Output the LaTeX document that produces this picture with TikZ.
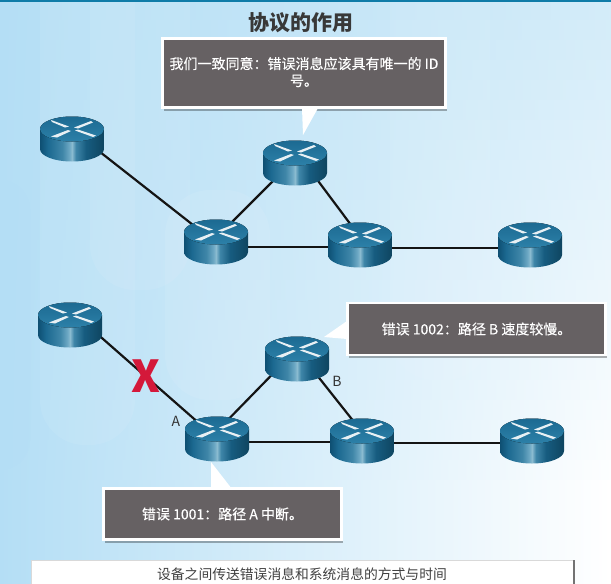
\documentclass[tikz,border=0pt]{standalone}
\usepackage{fontspec}
\setmainfont{Noto Sans CJK SC}
\newfontfamily\calloutfont[FakeBold=0.25]{Noto Sans CJK SC}
\usetikzlibrary{shadows,calc}
\definecolor{bgL}{rgb}{.706,.871,.961}
\definecolor{bgR}{rgb}{.83,.925,.976}
\definecolor{barC}{rgb}{.06,.486,.659}
\definecolor{rTop}{rgb}{.11,.416,.573}
\definecolor{rLow}{rgb}{.173,.502,.659}
\definecolor{callout}{rgb}{.40,.38,.388}
\definecolor{cross}{rgb}{.83,.094,.227}
\pgfdeclarehorizontalshading{routerbody}{100bp}{
 rgb(0bp)=(.055,.31,.447); rgb(25bp)=(.055,.31,.447); rgb(31bp)=(.106,.408,.565); rgb(42.5bp)=(.247,.525,.659); rgb(48bp)=(.427,.659,.769);
 rgb(50bp)=(.541,.733,.816); rgb(53bp)=(.247,.525,.659); rgb(61bp)=(.09,.361,.502); rgb(75bp)=(.055,.27,.376); rgb(100bp)=(.055,.27,.376)}
\tikzset{
 x=1pt,y=-1pt,
 routerspot/.style={inner sep=0pt,minimum width=60pt,minimum height=40pt},
 link/.style={line width=2.2pt,black!92},
 calloutbox/.style={draw=white,line width=2.4pt,fill=callout,text=white,font=\calloutfont\fontsize{14}{17}\selectfont,align=center,
   drop shadow={shadow xshift=1pt,shadow yshift=-3pt,opacity=.3,fill=black}},
 tailshape/.style={fill=white},
 lbl/.style={font=\fontsize{14}{16}\selectfont,text=black!80},
 softband/.style={fill=white,opacity=#1},
}
\newcommand{\routerart}[1]{%
 \begin{scope}[shift={(#1.center)}]
  \path[shading=routerbody] (-32,-10) -- (-32,10) arc[x radius=32,y radius=12.5,start angle=180,end angle=0] -- (32,-10) -- cycle;
  \fill[top color=rTop,bottom color=rLow] (0,-10) ellipse[x radius=32,y radius=12.5];
  \fill[white!90!rTop] (-21,-19) -- (-3,-12.5) -- (-7,-11.5) -- (-20,-17) -- cycle;
  \fill[white!90!rTop] (19,-18) -- (2,-11.5) -- (6,-10.5) -- (21,-16.5) -- cycle;
  \fill[white!90!rTop] (-21,-2.5) -- (-4,-9) -- (-1,-8) -- (-15,-1.5) -- cycle;
  \fill[white!90!rTop] (21,-2) -- (3,-8.5) -- (6,-9.5) -- (24,-3.5) -- cycle;
 \end{scope}}
\begin{document}
\begin{tikzpicture}
\useasboundingbox (0,0) rectangle (611,584);
% background
\foreach \i in {0,...,29} {
 \pgfmathtruncatemacro{\p}{min(100,\i*100/24)}
 \shade[left color=bgL,right color=white!\p!bgR] (0,{\i*20}) rectangle (611,{min(584,\i*20+21)});
}
\begin{scope}
 \clip (0,0) rectangle (611,584);
 \fill[bgL,opacity=.35,rounded corners=30pt] (-40,180) rectangle (30,470);
 \fill[softband=.07,rounded corners=45pt] (40,-60) rectangle (135,445);
 \fill[softband=.07,rounded corners=45pt] (90,-60) rectangle (190,290);
 \fill[softband=.08,rounded corners=45pt] (165,190) rectangle (270,400);
 \fill[softband=.06,rounded corners=45pt] (390,-60) rectangle (490,380);
\end{scope}
\fill[barC] (0,0) rectangle (611,2);
% title
\node[font=\fontsize{21}{24}\bfseries\selectfont,text=black!78] (title) at (301,23) {协议的作用};
% router positions
\node[routerspot] (a1) at (72,139) {};
\node[routerspot] (a2) at (295,163) {};
\node[routerspot] (a3) at (216,242) {};
\node[routerspot] (a4) at (360,245) {};
\node[routerspot] (a5) at (530,245) {};
\node[routerspot] (b1) at (70,325) {};
\node[routerspot] (b2) at (297,359) {};
\node[routerspot] (b3) at (217,439) {};
\node[routerspot] (b4) at (362,441) {};
\node[routerspot] (b5) at (532,441) {};
% links
\draw[link] ($(a1.center)+(0,-9)$) -- ($(a3.center)+(0,1)$);
\draw[link] ($(a2.center)+(0,-4)$) -- ($(a3.center)+(0,-4)$);
\draw[link] ($(a2.center)+(0,-13)$) -- ($(a4.center)+(0,-8)$);
\draw[link] ($(a3.center)+(0,5)$) -- ($(a4.center)+(0,2)$);
\draw[link] ($(a4.center)+(0,3)$) -- ($(a5.center)+(0,3)$);
\draw[link] ($(b1.center)+(0,-15)$) -- (b3.center);
\draw[link] ($(b2.center)+(0,-10)$) -- ($(b3.center)+(0,-8)$);
\draw[link] ($(b2.center)+(0,-9)$) -- ($(b4.center)+(0,-9)$);
\draw[link] ($(b3.center)+(0,3)$) -- ($(b4.center)+(0,1)$);
\draw[link] ($(b4.center)+(0,2)$) -- ($(b5.center)+(0,2)$);
% routers
\foreach \r in {a1,a2,a3,a4,a5,b1,b2,b3,b4,b5} {\routerart{\r}}
% callouts
\node[calloutbox,minimum width=283pt,minimum height=69pt,text depth=3pt] (c1) at (304,73) {我们一致同意：错误消息应该具有唯一的 ID\\号。};
\fill[tailshape] (302,108) -- (303,135) -- (318,108) -- cycle;
\node[calloutbox,minimum width=258pt,minimum height=52pt] (c2) at (476.5,329) {\raisebox{1pt}{错误 1002：路径 B 速度较慢。}};
\fill[tailshape] (347,321) -- (324,337) -- (347,339) -- cycle;
\node[calloutbox,minimum width=238pt,minimum height=51pt] (c3) at (222.5,514) {\raisebox{1pt}{错误 1001：路径 A 中断。}};
\fill[tailshape] (211,462) -- (211,489) -- (232,489) -- cycle;
% labels
\node[lbl] (la) at (176,421) {A};
\node[lbl] (lb) at (337,381) {B};
% cross
\node[font=\fontsize{44}{44}\bfseries\selectfont,text=cross] (x) at (145.5,376.5) {X};
% bottom box
\fill[black!55] (573,560) rectangle (575,584);
\fill[white] (31,560) rectangle (573,584);
\draw[black!15] (31,584) -- (31,560) -- (573,560);
\node[font=\fontsize{13.8}{15}\selectfont,text=black!75] (cap) at (302,574) {设备之间传送错误消息和系统消息的方式与时间};
\end{tikzpicture}
\end{document}
